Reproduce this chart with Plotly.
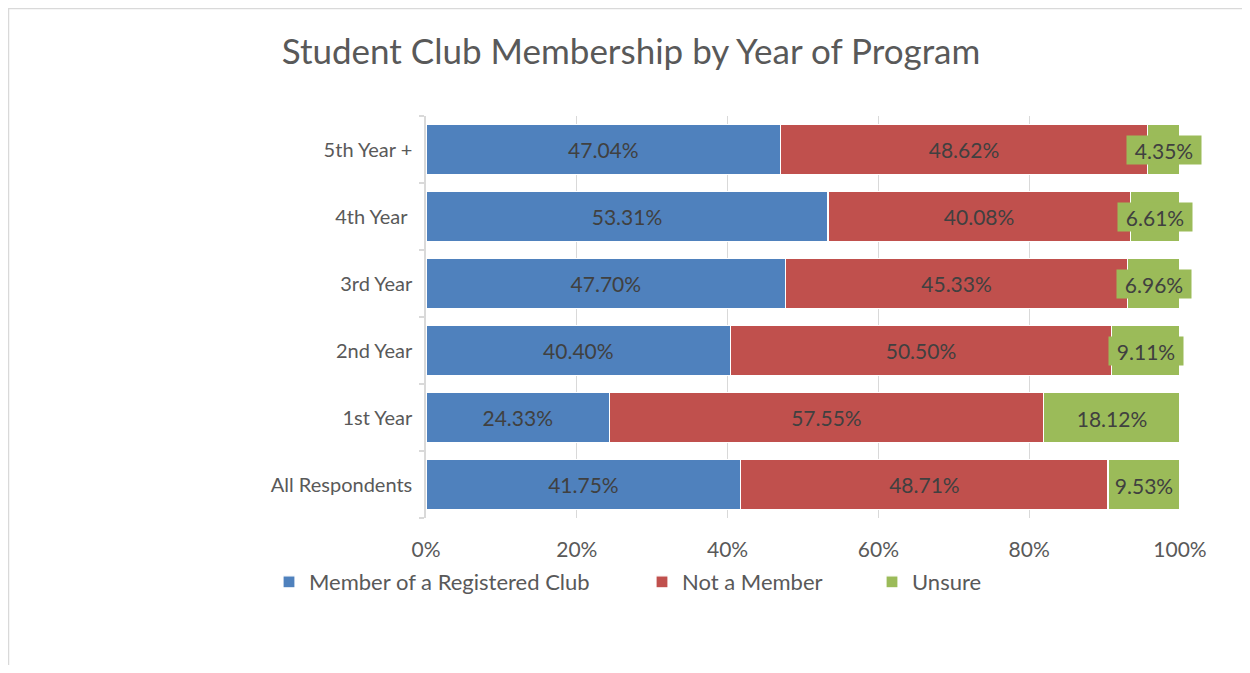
import plotly.graph_objects as go

categories = ["All Respondents", "1st Year", "2nd Year", "3rd Year", "4th Year\u00a0", "5th Year +"]
member = [41.75, 24.33, 40.40, 47.70, 53.31, 47.04]
not_member = [48.71, 57.55, 50.50, 45.33, 40.08, 48.62]
unsure = [9.53, 18.12, 9.11, 6.96, 6.61, 4.35]
x_ticks = [0, 20, 40, 60, 80, 100]

BLUE, RED, GREEN = "#4f81bd", "#c0504d", "#9bbb59"
FONT = "Lato"
LBL = "#404040"
GRAY = "#595959"

OFF = 8  # page body margin
W, H = 1250 - 2 * OFF, 673 - 2 * OFF
L = 426 - OFF
R = W - (1180 - OFF)
T = 116 - OFF
B = H - (517.7 - OFF)
pw, ph = W - L - R, H - T - B

fig = go.Figure()
for name, vals, col, lg in [("Member of a Registered Club", member, BLUE, "legend"),
                            ("Not a Member", not_member, RED, "legend2")]:
    fig.add_trace(go.Bar(
        y=categories, x=vals, name=name, orientation="h", legend=lg,
        marker=dict(color=col, line=dict(color="white", width=1.2)),
        text=[f"{v:.2f}%" for v in vals], textposition="inside",
        insidetextanchor="middle", constraintext="none",
        textfont=dict(family=FONT, size=21, color=LBL),
    ))
fig.add_trace(go.Bar(
    y=categories, x=unsure, name="Unsure", orientation="h", legend="legend3",
    marker=dict(color=GREEN, line=dict(color="white", width=1.2)),
    hoverinfo="x+name",
))

for c, m, n, u in zip(categories, member, not_member, unsure):
    boxed = u / 100 * pw < 70
    fig.add_annotation(x=m + n + u / 2, y=c, text=f"{u:.2f}%", showarrow=False,
                       font=dict(family=FONT, size=21, color=LBL),
                       bgcolor=GREEN if boxed else "rgba(0,0,0,0)",
                       width=74, height=28, borderpad=0)

fig.add_shape(type="rect", xref="paper", yref="paper",
              x0=(0.5 - L) / pw, x1=(W + 20 - L) / pw,
              y0=-(B + 20) / ph, y1=(H - B - 0.5) / ph,
              line=dict(color="#d9d9d9", width=1.5), fillcolor="rgba(0,0,0,0)", layer="below")

legend_text_x = [309, 682, 912]
leg_common = dict(orientation="h", xref="container", yref="container", xanchor="left",
                  y=1 - (582 - OFF) / H, yanchor="middle", bgcolor="rgba(0,0,0,0)",
                  font=dict(family=FONT, size=22, color=GRAY))
legends = {}
for i, tx in enumerate(legend_text_x):
    key = "legend" if i == 0 else f"legend{i + 1}"
    legends[key] = dict(leg_common, x=(tx - OFF - 40) / W)

fig.update_layout(
    width=W, height=H, barmode="stack", bargap=0.255,
    margin=dict(l=L, r=R, t=T, b=B, autoexpand=False),
    paper_bgcolor="white", plot_bgcolor="white",
    font=dict(family=FONT, color=GRAY),
    title=dict(text="Student Club Membership by Year of Program", x=(631 - OFF) / W, xref="container",
               xanchor="center", y=1 - (52 - OFF) / H, yref="container", yanchor="middle",
               font=dict(family=FONT, size=35, color=GRAY)),
    xaxis=dict(range=[0, 100], tickvals=x_ticks, ticktext=[f"{v}%" for v in x_ticks],
               showgrid=True, gridcolor="#d9d9d9", gridwidth=1, zeroline=False,
               showline=False, ticks="", tickfont=dict(family=FONT, size=21, color=GRAY),
               ticklabelstandoff=17, automargin=False),
    yaxis=dict(showline=True, linecolor="#d9d9d9", linewidth=1.5, ticks="outside",
               tickson="boundaries", ticklen=5, tickcolor="#d9d9d9", tickwidth=1.5,
               tickfont=dict(family=FONT, size=20, color=GRAY), ticklabelstandoff=8,
               showgrid=False, automargin=False),
    showlegend=True,
    **legends,
)
fig.write_html("out.html")
